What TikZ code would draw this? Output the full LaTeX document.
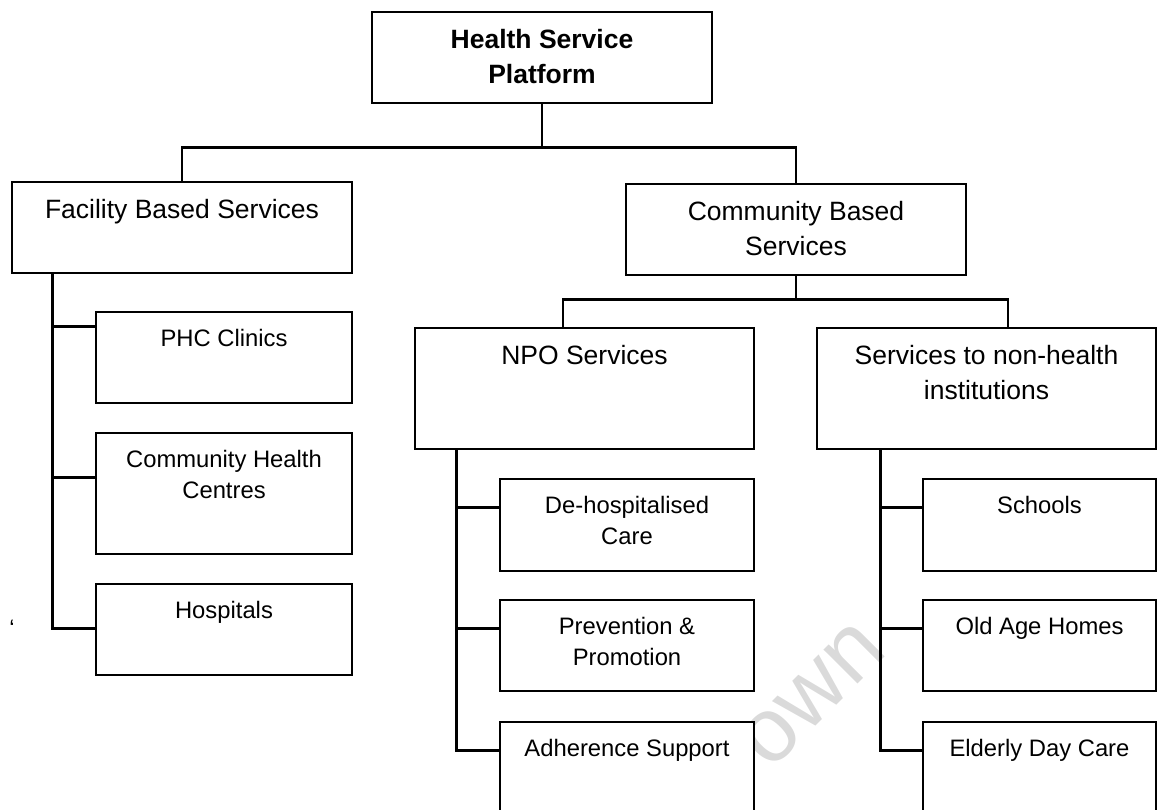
\documentclass[tikz,border=0pt]{standalone}
\usepackage{fontspec}
\setmainfont{Liberation Sans}
\definecolor{wmgray}{RGB}{218,218,218}
\tikzset{
	box/.style={draw, line width=1.45pt, fill=white, inner sep=0pt},
	link/.style={line width=1.45pt},
	txt/.style={anchor=north, yshift=-9pt, inner sep=0pt, align=center},
	big/.style={font=\fontsize{13.25}{17.5}\selectfont},
	bigb/.style={font=\fontsize{13.25}{17.5}\selectfont\bfseries},
	small/.style={font=\fontsize{11.9}{15.5}\selectfont},
}
\begin{document}
\begin{tikzpicture}[x=0.5pt,y=-0.5pt]
		\useasboundingbox (0,0) rectangle (1157,809);
		% watermark
		\node[text=wmgray, font=\fontsize{45.5}{45.5}\selectfont, rotate=45, inner sep=0pt] (wm) at (813,695) {own};
		\node[small, anchor=base west, inner sep=0pt] (quote) at (9,636) {\textquoteleft};
		% top and second level
		\node[box, minimum width=170pt, minimum height=45.5pt, label={[txt, bigb]north:Health Service\\Platform}] (hsp) at (542,57.5) {};
		\node[box, minimum width=170pt, minimum height=45.5pt, label={[txt, big]north:Facility Based Services}] (fbs) at (182,227.5) {};
		\node[box, minimum width=170pt, minimum height=45.5pt, label={[txt, big]north:Community Based\\Services}] (cbs) at (796,229.5) {};
		\node[box, minimum width=169.5pt, minimum height=60.5pt, label={[txt, big]north:NPO Services}] (npo) at (584.5,388.5) {};
		\node[box, minimum width=169.5pt, minimum height=60.5pt, label={[txt, big]north:Services to non-health\\institutions}] (snh) at (986.5,388.5) {};
		% facility based
		\node[box, minimum width=128pt, minimum height=45.5pt, label={[txt, small]north:PHC Clinics}] (phc) at (224,357.5) {};
		\node[box, minimum width=128pt, minimum height=60.5pt, label={[txt, small]north:Community Health\\Centres}] (chc) at (224,493.5) {};
		\node[box, minimum width=128pt, minimum height=45.5pt, label={[txt, small]north:Hospitals}] (hosp) at (224,629.5) {};
		% NPO services
		\node[box, minimum width=127pt, minimum height=46pt, label={[txt, small]north:De-hospitalised\\Care}] (dhc) at (627,525) {};
		\node[box, minimum width=127pt, minimum height=45.5pt, label={[txt, small]north:Prevention \&\\Promotion}] (pp) at (627,645.5) {};
		\node[box, minimum width=127pt, minimum height=45.5pt, label={[txt, small]north:Adherence Support}] (as) at (627,767.5) {};
		% non-health institutions
		\node[box, minimum width=116.5pt, minimum height=46pt, label={[txt, small]north:Schools}] (sch) at (1039.5,525) {};
		\node[box, minimum width=116.5pt, minimum height=45.5pt, label={[txt, small]north:Old Age Homes}] (oah) at (1039.5,645.5) {};
		\node[box, minimum width=116.5pt, minimum height=45.5pt, label={[txt, small]north:Elderly Day Care}] (edc) at (1039.5,767.5) {};
		% connectors
		\draw[link] (hsp.south) -- ++(0,43) coordinate (hspbar);
		\draw[link] (fbs.north) |- (hspbar) -| (cbs.north);
		\draw[link] (cbs.south) -- ++(0,23) coordinate (cbsbar);
		\draw[link] ([xshift=-10.75pt]npo.north) |- (cbsbar) -| ([xshift=10.75pt]snh.north);
		\foreach \n/\d in {phc/8,chc/23,hosp/23}
			\draw[link] ([xshift=21pt]fbs.south west) |- ([yshift=-\d pt]\n.north west);
		\foreach \n in {dhc,pp,as}
			\draw[link] ([xshift=21.5pt]npo.south west) |- ([yshift=-15pt]\n.north west);
		\foreach \n in {sch,oah,edc}
			\draw[link] ([xshift=32.5pt]snh.south west) |- ([yshift=-15pt]\n.north west);
	\end{tikzpicture}
\end{document}
